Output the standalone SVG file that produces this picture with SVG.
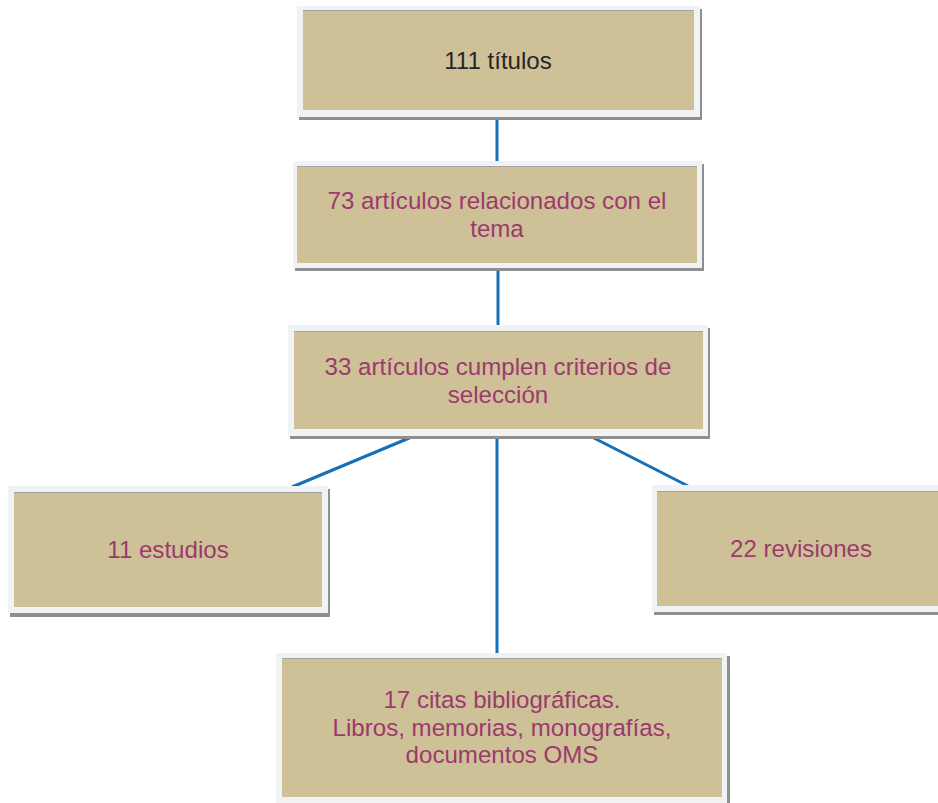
<svg xmlns="http://www.w3.org/2000/svg" width="938" height="803" viewBox="0 0 938 803">
<style>
.sh{fill:#8f8f91}
.fr{fill:#f1f2f4}
.in{fill:#cec097}
.tl{stroke:#a3a3a3;stroke-width:1.2}
.t{font-family:"Liberation Sans",Arial,sans-serif;font-size:24.1px;text-anchor:middle;fill:#9c3a6d}
.dk{fill:#262626}
.c{stroke:#1570b8;stroke-width:3;fill:none}
</style>
<rect width="938" height="803" fill="#ffffff"/>
<g id="connectors">
<line class="c" x1="497" y1="117" x2="497" y2="161"/>
<line class="c" x1="498" y1="268" x2="498" y2="325"/>
<line class="c" x1="497" y1="436" x2="497" y2="653"/>
<line class="c" x1="414" y1="436" x2="292" y2="487"/>
<line class="c" x1="590" y1="436" x2="688" y2="486"/>
</g>
<g id="n1">
<rect class="sh" x="299" y="9" width="403" height="111"/>
<rect class="fr" x="297" y="6" width="403" height="111"/>
<rect class="in" x="303" y="10" width="391" height="100"/>
<line class="tl" x1="303" y1="10.5" x2="694" y2="10.5"/>
<text class="t dk" x="498" y="69">111 títulos</text>
</g>
<g id="n2">
<rect class="sh" x="295" y="164" width="409" height="107"/>
<rect class="fr" x="293" y="161" width="409" height="107"/>
<rect class="in" x="297" y="166" width="400" height="97"/>
<line class="tl" x1="297" y1="166.5" x2="697" y2="166.5"/>
<text class="t" x="497" y="209">73 artículos relacionados con el</text>
<text class="t" x="497" y="237">tema</text>
</g>
<g id="n3">
<rect class="sh" x="290" y="328" width="420" height="111"/>
<rect class="fr" x="288" y="325" width="420" height="111"/>
<rect class="in" x="294" y="331" width="409" height="98"/>
<line class="tl" x1="294" y1="331.5" x2="703" y2="331.5"/>
<text class="t" x="498" y="375">33 artículos cumplen criterios de</text>
<text class="t" x="498" y="403">selección</text>
</g>
<g id="n4">
<rect class="sh" x="10" y="489" width="320" height="128"/>
<rect class="fr" x="8" y="486" width="320" height="127"/>
<rect class="in" x="14" y="492" width="308" height="115"/>
<line class="tl" x1="14" y1="492.5" x2="322" y2="492.5"/>
<text class="t" x="168" y="558">11 estudios</text>
</g>
<g id="n5">
<rect class="sh" x="654" y="488" width="300" height="127"/>
<rect class="fr" x="652" y="485" width="300" height="127"/>
<rect class="in" x="657" y="491" width="300" height="115"/>
<line class="tl" x1="657" y1="491.5" x2="957" y2="491.5"/>
<text class="t" x="801" y="557">22 revisiones</text>
</g>
<g id="n6">
<rect class="sh" x="278" y="656" width="452" height="160"/>
<rect class="fr" x="276" y="653" width="451" height="160"/>
<rect class="in" x="282" y="658" width="440" height="139"/>
<line class="tl" x1="282" y1="658.5" x2="722" y2="658.5"/>
<text class="t" x="502" y="708">17 citas bibliográficas.</text>
<text class="t" x="502" y="736">Libros, memorias, monografías,</text>
<text class="t" x="502" y="763">documentos OMS</text>
</g>
</svg>
